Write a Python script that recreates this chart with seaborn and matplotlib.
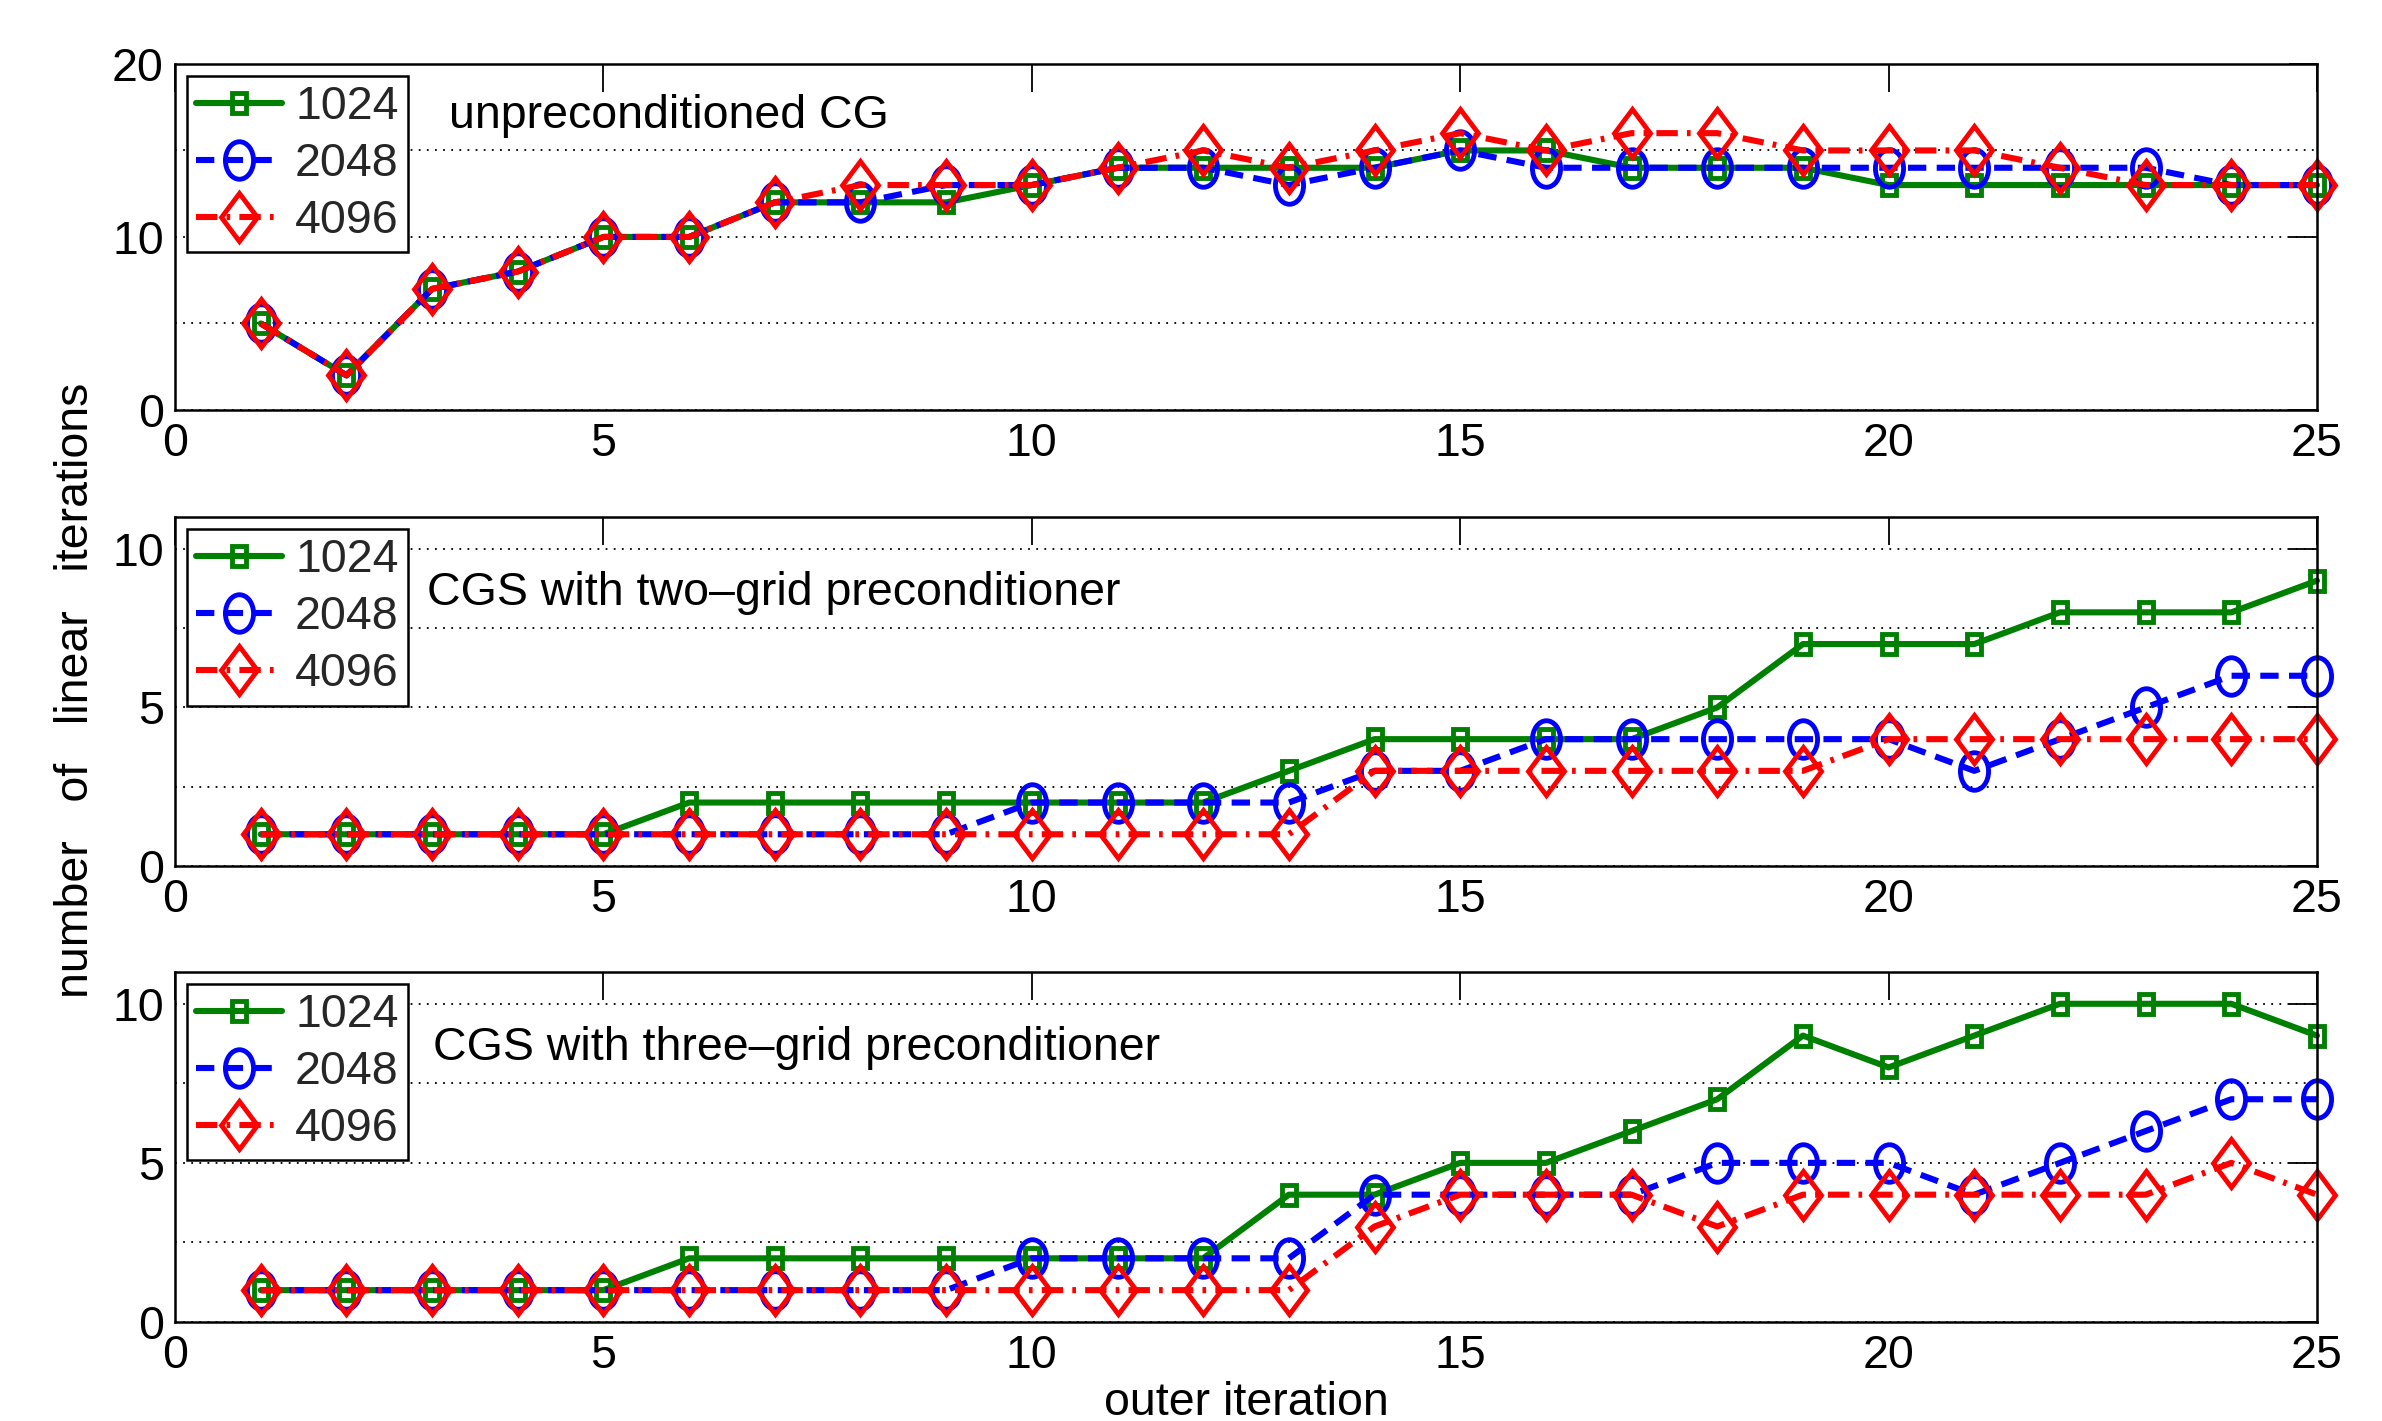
import matplotlib
matplotlib.use("Agg")
import matplotlib.pyplot as plt
import seaborn as sns
import numpy as np
import pandas as pd
from matplotlib.markers import MarkerStyle
from matplotlib.transforms import Affine2D
from matplotlib.ticker import MultipleLocator

# outer iteration index
outer = list(range(1, 26))
sizes = ["1024", "2048", "4096"]

# unpreconditioned CG
cg_1024 = [5, 2, 7, 8, 10, 10, 12, 12, 12, 13, 14, 14, 14, 14, 15, 15, 14, 14, 14, 13, 13, 13, 13, 13, 13]
cg_2048 = [5, 2, 7, 8, 10, 10, 12, 12, 13, 13, 14, 14, 13, 14, 15, 14, 14, 14, 14, 14, 14, 14, 14, 13, 13]
cg_4096 = [5, 2, 7, 8, 10, 10, 12, 13, 13, 13, 14, 15, 14, 15, 16, 15, 16, 16, 15, 15, 15, 14, 13, 13, 13]

# CGS with two-grid preconditioner
two_1024 = [1, 1, 1, 1, 1, 2, 2, 2, 2, 2, 2, 2, 3, 4, 4, 4, 4, 5, 7, 7, 7, 8, 8, 8, 9]
two_2048 = [1, 1, 1, 1, 1, 1, 1, 1, 1, 2, 2, 2, 2, 3, 3, 4, 4, 4, 4, 4, 3, 4, 5, 6, 6]
two_4096 = [1, 1, 1, 1, 1, 1, 1, 1, 1, 1, 1, 1, 1, 3, 3, 3, 3, 3, 3, 4, 4, 4, 4, 4, 4]

# CGS with three-grid preconditioner
three_1024 = [1, 1, 1, 1, 1, 2, 2, 2, 2, 2, 2, 2, 4, 4, 5, 5, 6, 7, 9, 8, 9, 10, 10, 10, 9]
three_2048 = [1, 1, 1, 1, 1, 1, 1, 1, 1, 2, 2, 2, 2, 4, 4, 4, 4, 5, 5, 5, 4, 5, 6, 7, 7]
three_4096 = [1, 1, 1, 1, 1, 1, 1, 1, 1, 1, 1, 1, 1, 3, 4, 4, 4, 3, 4, 4, 4, 4, 4, 5, 4]

panel_titles = ["unpreconditioned CG",
                "CGS with two\u2013grid preconditioner",
                "CGS with three\u2013grid preconditioner"]
panel_data = [(cg_1024, cg_2048, cg_4096),
              (two_1024, two_2048, two_4096),
              (three_1024, three_2048, three_4096)]

sns.set_theme(style="white")
plt.rcParams["font.family"] = ["Liberation Sans", "DejaVu Sans"]
FS = 33.5

squeeze = Affine2D().scale(0.75, 1.0)
styles = [
    dict(color="#008000", linestyle="-", marker=MarkerStyle("s", transform=squeeze), markersize=14),
    dict(color="#0000ff", linestyle=(0, (3, 1.7)), marker=MarkerStyle("o", transform=squeeze), markersize=27),
    dict(color="#ff0000", linestyle=(0, (3.5, 1.5, 0.6, 1.5)), marker=MarkerStyle("D", transform=squeeze), markersize=24),
]

fig = plt.figure(figsize=(23.82, 14.21), dpi=100)
left, right = 0.0735, 0.9727
boxes = [(0.7115, 0.955), (0.3906, 0.636), (0.0697, 0.316)]
ylims = [(0, 20), (0, 11), (0, 11)]
major = [10, 5, 5]
text_pos = [(0.128, 0.851), (0.1176, 0.784), (0.1204, 0.783)]

axes = []
for k, (b, t) in enumerate(boxes):
    ax = fig.add_axes([left, b, right - left, t - b])
    axes.append(ax)
    for series, name, st in zip(panel_data[k], sizes, styles):
        df = pd.DataFrame({"outer": outer, "its": series})
        sns.lineplot(data=df, x="outer", y="its", ax=ax, errorbar=None,
                     linewidth=4.4, markerfacecolor="none", markeredgewidth=3.5,
                     markeredgecolor=st["color"], label=name, clip_on=False, **st)
    ax.set_xlim(0, 25)
    ax.set_ylim(*ylims[k])
    ax.xaxis.set_major_locator(MultipleLocator(5))
    ax.yaxis.set_major_locator(MultipleLocator(major[k]))
    ax.yaxis.set_minor_locator(MultipleLocator(major[k] / 2))
    ax.grid(axis="y", which="both", linestyle=(0, (1, 3.5)), color="black", linewidth=1.3)
    ax.grid(axis="x", visible=False)
    ax.tick_params(axis="both", which="major", direction="in", length=20, width=1.3,
                   top=True, right=True, labelsize=FS, colors="black")
    ax.tick_params(axis="x", pad=9)
    ax.tick_params(axis="y", pad=8)
    ax.tick_params(which="minor", length=0)
    for sp in ax.spines.values():
        sp.set_color("black")
        sp.set_linewidth(1.8)
    ax.set_xlabel("")
    ax.set_ylabel("")
    leg = ax.legend(loc="upper left", fontsize=FS, frameon=True, fancybox=False,
                    framealpha=1, edgecolor="black", handlelength=1.85,
                    handletextpad=0.28, borderpad=0.2, labelspacing=0.28,
                    borderaxespad=0.25, numpoints=1)
    leg.get_frame().set_linewidth(1.8)
    leg.set_zorder(5)
    ax.text(text_pos[k][0], text_pos[k][1], panel_titles[k], transform=ax.transAxes,
            fontsize=FS, va="center", ha="left", color="black")

axes[2].set_xlabel("outer iteration", fontsize=FS, labelpad=2, color="black")
fig.text(0.032, 0.514, "number   of   linear   iterations", rotation=90,
         fontsize=FS, va="center", ha="center", color="black")

fig.savefig("out.png", dpi=100)
